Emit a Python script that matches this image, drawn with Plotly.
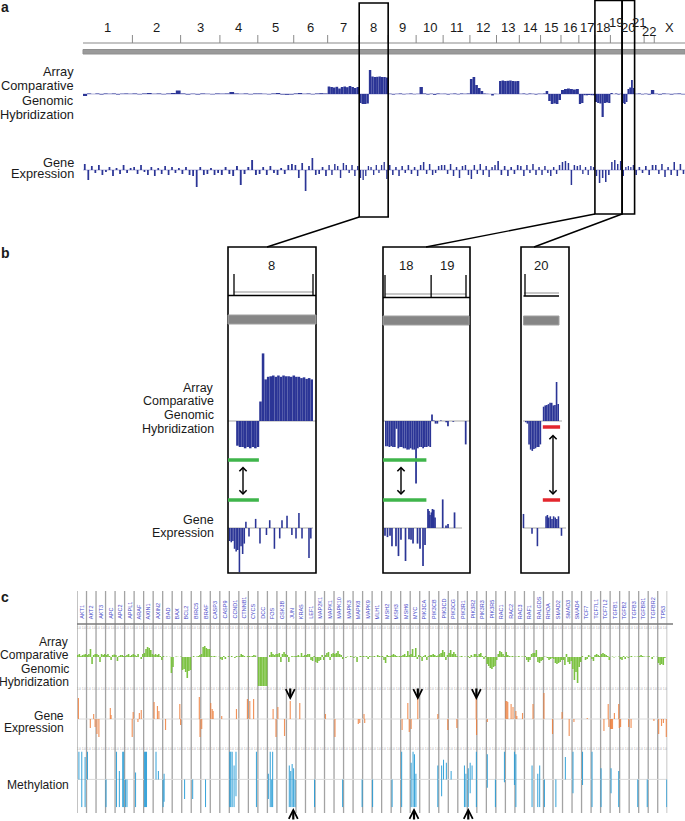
import plotly.graph_objects as go

W, H = 685, 821

# ---------------- DATA ----------------
chrom_names = ["1", "2", "3", "4", "5", "6", "7", "8", "9", "10", "11", "12",
               "13", "14", "15", "16", "17", "18", "19", "20", "21", "22", "X"]
chrom_len = [249, 243, 198, 191, 181, 171, 159, 146, 141, 136, 135, 134,
             115, 107, 103, 90, 81, 78, 59, 63, 48, 51, 155]

# panel a: array CGH (log ratio) per chromosome, equal bins
acgh_a = [
    [-0.2, 0.05, 0.0, 0.05, -0.05, 0.05, 0.02, 0.05, -0.05, 0.03, 0.05, 0.02],
    [0.05, -0.03, 0.05, 0.1, 0.02, 0.05, -0.03, 0.05, 0.1, 0.35],
    [0.05, -0.05, 0.03, -0.05, 0.05, 0.02, -0.03, 0.05],
    [0.03, 0.05, 0.2, 0.05, 0.02, 0.05, -0.03, 0.05],
    [0.05, 0.02, -0.03, 0.05, 0.1, -0.05, -0.08, -0.05],
    [0.05, 0.1, 0.02, 0.05, -0.03, 0.05, 0.08, 0.05],
    [0.75, 0.7, 0.65, 0.72, 0.55, 0.7, 0.75, 0.68, 0.8, 0.7, 0.6, 0.7],
    [-0.9, -1.0, -1.0, -0.95, 2.4, 1.75, 1.7, 1.72, 1.75, 1.7, 1.7, 1.65],
    [0.03, -0.05, 0.02, 0.05, -0.03, 0.02, 0.05, -0.02],
    [0.02, 0.7, 0.05, -0.05, 0.03, -0.08, 0.05, 0.02],
    [0.03, -0.05, 0.02, 0.05, -0.03, 0.05, 0.02, 0.05],
    [1.5, 1.7, 0.9, 0.6, 0.3, 0.05, 0.02, 0.0, -0.15, 0.02],
    [0.0, 1.3, 1.35, 1.3, 1.32, 1.35, 1.3, 1.28, 1.3],
    [0.02, 0.05, -0.03, 0.05, 0.02, -0.05, 0.03],
    [0.02, 0.05, 0.3, -0.7, -1.0, -0.95, -1.0, -0.6],
    [0.4, 0.5, 0.55, 0.5, 0.45, 0.5],
    [-1.0, -0.9, -0.12, -0.13, -0.1, -0.12, -0.13],
    [-0.8, -0.9, -0.95, -2.3, -0.9, -0.85, -0.9],
    [0.1, 0.0, 0.05, -0.05, 0.02],
    [-0.9, -1.0, -0.8, 0.5, 0.65, 1.4, 0.6],
    [0.02, 0.05, -0.03],
    [0.03, -0.05, 0.4],
    [0.03, -0.05, 0.05, 0.02, -0.05, 0.03, 0.05, -0.03],
]

# panel a: gene expression per chromosome, equal spacing
expr_a = [
    [0.6, -1.0, 0.4, -0.3, 0.5, -0.5, -0.2, 0.3, -0.6, 0.2, -0.4, 0.5, -0.3, 0.2],
    [0.3, -0.4, 0.5, -0.2, -0.5, 0.3, -0.6, 0.2, -0.4, 0.4, -0.5, 0.3, -0.3, 0.2],
    [-0.4, 0.3, -0.5, -0.6, -1.7, 0.3, -0.5, -0.4, 0.2, -0.5, -0.3],
    [-0.5, 0.3, -0.4, -0.6, 0.4, -1.5, -0.4, 0.3, 1.0, -0.5],
    [-0.4, 0.3, -0.5, 0.4, -0.3, -0.5, 0.2, -0.4, 0.5, 0.6],
    [0.5, -0.8, 0.7, -2.1, 0.4, 1.2, -0.5, -0.4, 0.3, -0.6],
    [0.5, -0.5, 0.6, 0.4, -0.8, 0.7, 0.5, -0.3, 0.5, -0.6, 0.4],
    [-0.8, -1.0, -0.6, 0.4, 0.3, -0.5, 0.5, -0.3, 0.5, 0.8, -0.9],
    [0.5, -0.5, 0.3, -0.6, 0.4, -0.3, 0.5, -0.4, 0.3],
    [-0.6, 0.5, 0.8, -0.4, 0.6, -0.5, -0.3, 0.4, 0.5],
    [0.5, -0.4, 0.6, -0.6, 0.3, -0.8, 0.4, 0.5, -0.5],
    [-0.9, 0.5, -0.4, 0.6, -0.5, 0.4, -0.7, 0.3, 0.5],
    [0.9, -0.5, 0.4, -0.6, 0.3, -0.4, 0.5],
    [0.4, -0.6, 0.5, -0.3, 0.6, -0.5, 0.3],
    [-0.5, 0.4, -0.3, -0.6, 0.3, -0.4, 0.5],
    [0.8, 0.9, 0.7, -1.5, 0.5, 0.4],
    [0.5, -0.4, 0.3, -0.5, 0.4, 0.3],
    [-0.6, -1.3, -0.8, -1.2, -0.5],
    [0.8, 1.0, 0.6, 0.9],
    [-0.6, 0.3, 0.4, 0.3, 0.5],
    [-0.5, 0.3, -0.3],
    [0.4, -0.5, 0.5],
    [0.5, -0.4, 0.6, -0.7, 0.3, -0.5, 0.8, -0.6, 0.6, -0.4],
]

# panel b: zoomed chromosome 8 (Mb)
b8_acgh_span = [4, 146]
b8_acgh = [-0.95, -1.0, -1.0, -1.05, -1.0, -1.05, -1.0, -1.05, -1.0,
           0.75, 2.6, 1.6, 1.7, 1.72, 1.75, 1.7, 1.75, 1.7, 1.75, 1.72,
           1.72, 1.7, 1.75, 1.7, 1.7, 1.65, 1.68, 1.62, 1.65, 1.6]
b8_expr_pos = [-8, -5, -2, 1, 4, 7, 10, 13, 16, 19, 22, 27.7, 40, 48, 60, 66,
               74.7, 84.5, 88.7, 98, 107, 114.6, 120, 125.7, 138.6, 142]
b8_expr_val = [-0.5, -0.55, -0.5, -0.8, -0.9, -0.85, -1.7, -0.7, -1.0, -0.6,
               0.24, -0.33, 0.35, -0.6, -0.27, 0.3, -0.8, -0.4, 0.3, 0.47,
               -0.27, -0.4, 0.58, -0.4, -1.15, -0.4]
b8_loss_end = 46

# panel b: zoomed chromosomes 18-19 (Mb, 19 starts at 78)
b1819_bin = 3
b1819_acgh = [-0.97, -0.97, -1.0, -0.97, -1.0, -1.0, -0.3, -1.05, -1.0, -1.0,
              -1.05, -1.05, -1.1, -1.1, -1.05, -1.1, -1.1, -2.4, -1.05, -1.0,
              -1.0, -1.05, -1.0, -1.0, -0.97, -1.0,
              0.25, 0.02, -0.1, -0.1, 0.0, 0.02, 0.0, 0.0, -0.05, -0.2,
              0.0, 0.0, -0.03, 0.0, 0.0, 0.0, 0.0, 0.0, 0.0, -0.9]
b1819_expr_pos = [0, 4.2, 8.5, 11.8, 18.6, 22.8, 27, 34.7, 40.6, 44, 47.4, 55,
                  59.2, 64.3, 67.7, 72.7, 74.4, 76, 78.5, 80.3, 82.5, 84.6,
                  97.6, 103.2, 106.6, 117.6]
b1819_expr_val = [-0.3, -0.35, -0.3, -0.7, -0.7, -1.08, -0.45, -1.27, -0.43,
                  -0.45, -0.6, -0.6, -0.8, -1.46, -0.65, 0.73, 0.65, 0.5, 0.6,
                  0.73, 0.7, 0.4, 1.1, 0.1, 0.15, 0.6]
b1819_bounds = [0, 78, 137]
b18_loss_end = 70

# panel b: zoomed chromosome 20 (Mb)
b20_bin = 3
b20_acgh = [-0.05, -0.1, -0.9, -1.1, -1.15, -1.08, -1.05, -1.0, -1.0, -0.9,
            0.0, 0.55, 0.6, 0.62, 0.65, 0.7, 0.7, 0.6, 0.62, 1.5, 0.65]
b20_expr_pos = [-2.8, 13, 23, 39, 41.5, 44, 47, 50, 53, 56, 59, 62, 67.6]
b20_expr_val = [0.54, -0.22, -0.7, 0.45, 0.5, 0.4, 0.45, 0.35, 0.45, 0.4,
                0.35, 0.45, -0.3]
b20_gain_span = [33, 65]

# panel c: genes
genes = ["AKT1", "AKT2", "AKT3", "APC", "APC2", "APPL1", "ARAF", "AXIN1", "AXIN2",
         "BAD", "BAX", "BCL2", "BIRC5", "BRAF", "CASP3", "CASP9", "CCND1",
         "CTNNB1", "CYCS", "DCC", "FOS", "GSK3B", "JUN", "KRAS", "LEF1",
         "MAP2K1", "MAPK1", "MAPK10", "MAPK3", "MAPK8", "MAPK9", "MLH1", "MSH2",
         "MSH3", "MSH6", "MYC", "PIK3CA", "PIK3CB", "PIK3CD", "PIK3CG", "PIK3R1",
         "PIK3R2", "PIK3R3", "PIK3R5", "RAC1", "RAC2", "RAC3", "RAF1", "RALGDS",
         "RHOA", "SMAD2", "SMAD3", "SMAD4", "TCF7", "TCF7L1", "TCF7L2", "TGFB1",
         "TGFB2", "TGFB3", "TGFBR1", "TGFBR2", "TP53"]

acgh_c = [
    [0.2, 0.3, 0.1, 0.2, 0.25, 0.3], [0.2, 0.3, 0.8, -0.7, 0.2, 0.3],
    [0.3, 0.2, -0.5, 0.3, 0.2, 0.3], [0.2, 0.3, 0.1, -0.3, 0.2, 0.25],
    [0.2, -0.4, 0.1, 0.2, 0.2, 0.1], [0.1, 0.2, 0.3, 0.1, 0.2, 0.3],
    [0.2, 0.1, 0.3, 0.0, -0.2, 0.3], [0.4, 0.8, 1.0, 0.9, 0.7, 0.3],
    [0.2, 0.3, 0.2, 0.3, 0.1, -0.3], [0.1, 0.0, 0.05, 0.0, 0.02, -1.6],
    [-1.0, 0.0, 0.05, 0.02, 0.0, 0.05], [-1.3, -1.2, -1.5, -2.1, -1.4, -1.3],
    [0.0, 0.1, 0.0, 0.05, 0.1, 0.2], [0.3, 1.0, 1.1, 0.9, 0.8, 0.8],
    [0.1, 0.05, 0.1, 0.05, 0.0, 0.02], [-0.2, -0.3, 0.1, -0.2, 0.0, 0.1],
    [0.0, 0.1, 0.0, -0.1, 0.1, 0.05], [0.1, 0.3, 0.2, 0.1, 0.0, 0.1],
    [0.1, 0.05, 0.1, 0.2, 0.15, 0.0], [-2.9, -2.9, -2.9, -2.9, -2.9, -2.9],
    [0.0, 0.2, 0.5, 0.3, 0.2, 0.3], [0.3, 0.4, -0.5, 0.3, 0.5, 0.3],
    [0.2, -0.5, 0.0, 0.1, 0.05, 0.1], [0.1, 0.2, 0.05, 0.4, 0.1, 0.2],
    [0.2, 0.3, 0.3, -0.3, -0.4, 0.1], [-0.5, -0.6, -0.4, -0.3, 0.2, -0.3],
    [0.2, 0.4, 0.5, -0.3, 0.3, 0.4], [0.3, 0.4, 0.6, 0.3, 0.2, -0.2],
    [0.0, -0.1, 0.05, 0.0, 0.1, 0.05], [-0.1, 0.05, -0.5, 0.0, 0.1, 0.05],
    [0.1, 0.05, 0.1, -0.2, 0.1, 0.05], [0.05, 0.1, 0.0, 0.2, 0.1, 0.05],
    [0.1, -0.3, -0.6, 0.2, 0.1, 0.1], [0.2, 0.3, 0.2, 0.1, 0.05, 0.1],
    [0.1, 0.2, 0.3, 0.1, 0.6, 0.2], [0.3, 0.8, 0.1, 0.9, -0.2, 0.2],
    [0.1, -0.4, 0.1, 0.2, -0.3, 0.1], [0.2, 0.2, 0.3, 0.2, 0.1, 0.15],
    [0.3, 0.4, 0.7, 0.5, -0.3, 0.2], [0.4, 0.7, 0.3, 0.5, 0.3, 0.1],
    [0.0, 0.05, 0.1, 0.0, 0.05, 0.0], [0.1, -0.1, 0.2, 0.05, 0.3, 0.3],
    [0.1, 0.3, 0.4, 0.1, -0.2, 0.1], [-0.7, -0.9, -1.1, -1.2, -1.0, -0.9],
    [-0.3, 0.3, 0.6, 0.5, 0.3, 0.1], [0.5, 0.2, 0.1, 0.05, 0.1, 0.02],
    [0.05, 0.02, 0.1, 0.0, 0.05, 0.02], [0.1, -0.3, -0.5, -0.3, 0.3, 0.4],
    [0.4, 0.7, -0.5, -0.6, -0.4, -0.3], [0.05, 0.02, -0.1, -0.3, -0.2, -0.1],
    [-0.2, -0.6, -0.7, -0.6, -0.5, -0.3], [-0.3, -0.8, 0.3, -0.5, -0.7, -0.4],
    [-1.2, -2.3, -1.5, -2.6, -1.0, -0.5], [0.1, 0.0, -0.3, -0.2, 0.2, 0.05],
    [-0.2, -0.4, 0.2, 0.3, 0.2, 0.1], [0.3, 0.4, 0.3, 0.2, 0.1, -0.3],
    [0.0, 0.05, -0.05, 0.02, 0.0, 0.05], [-0.2, -0.3, 0.1, -0.2, 0.05, -0.1],
    [0.05, 0.1, 0.0, 0.05, 0.02, 0.05], [0.1, 0.2, 0.1, 0.05, 0.02, 0.05],
    [0.1, 0.0, -0.2, 0.05, 0.0, 0.02], [-0.6, -0.8, -0.7, -0.8, -0.1, 0.0],
]

expr_c_gene = [0, 1, 1, 1, 2, 2, 3, 3, 5, 5, 6, 6, 6, 8, 8, 8, 9, 10, 10, 12, 12,
               13, 14, 14, 14, 15, 16, 17, 18, 18, 20, 20, 21, 21, 22, 23, 26, 27,
               29, 29, 30, 30, 34, 34, 34, 35, 35, 37, 38, 39, 41, 41, 43, 45, 45,
               45, 45, 45, 46, 46, 46, 47, 49, 49, 50, 51, 52, 53, 55, 55, 55, 56,
               56, 56, 56, 56, 56, 57, 57, 58, 60, 61, 61, 61, 61]
expr_c_pos = [0.15, 0.4, 0.75, 0.9, 0.1, 0.3, 0.5, 0.58, 0.8, 0.9, 0.4, 0.55, 0.75,
              0.1, 0.45, 0.6, 0.3, 0.8, 0.88, 0.85, 0.92, 0.1, 0.05, 0.2, 0.3,
              0.2, 0.75, 0.9, 0.15, 0.55, 0.6, 0.9, 0.1, 0.8, 0.4, 0.4, 0.1, 0.1,
              0.55, 0.7, 0.15, 0.22, 0.15, 0.75, 0.9, 0.1, 0.8, 0.9, 0.95, 0.9,
              0.93, 0.97, 0.1, 0.05, 0.15, 0.25, 0.6, 0.8, 0.1, 0.2, 0.8, 0.9,
              0.05, 0.95, 0.95, 0.7, 0.2, 0.6, 0.35, 0.8, 0.87, 0.05, 0.15, 0.25,
              0.45, 0.9, 0.96, 0.1, 0.95, 0.2, 0.6, 0.1, 0.4, 0.6, 0.9]
expr_c_val = [2.1, -0.9, 0.5, -0.8, -1.5, -1.8, 1.1, 0.4, -1.8, 0.7, -0.3, 0.6, 0.9,
              1.7, 1.3, 0.8, -1.1, 1.5, -0.6, 2.2, -1.8, -1.0, 1.6, 1.0, 0.8,
              0.3, 1.0, 2.0, 1.8, 2.0, 1.0, -1.8, 1.2, -1.7, 1.8, 1.6, 0.5, -1.8,
              -0.5, -0.4, 0.5, -0.4, -1.1, 1.6, -1.3, -1.0, 2.4, 0.5, -1.1, -0.9,
              2.4, -1.6, -0.3, 1.8, 1.8, 1.7, 1.5, 1.2, 0.8, 0.3, 0.6, 1.5,
              2.6, -1.5, 0.7, -1.7, -0.3, 0.1, -1.2, 1.5, -0.8, -1.0, -1.0, -1.0,
              0.6, 1.5, -0.9, -0.8, -0.8, -0.9, -0.2, -1.5, -0.7, -0.4, -1.8]

meth_c_gene = [0, 0, 0, 1, 3, 4, 4, 4, 4, 5, 5, 6, 7, 7, 7, 8, 8, 9, 9, 11, 12, 13,
               16, 16, 16, 16, 16, 18, 20, 20, 20, 20, 22, 22, 22, 22, 22, 24, 27,
               29, 31, 33, 34, 35, 35, 35, 35, 37, 38, 38, 38, 39, 40, 40, 41, 41,
               41, 41, 43, 43, 44, 45, 46, 47, 48, 48, 49, 50, 51, 52, 53, 54, 55,
               56, 56, 58, 59, 61]
meth_c_pos = [0.2, 0.5, 0.85, 0.1, 0.05, 0.15, 0.45, 0.8, 0.9, 0.1, 0.25, 0.15,
              0.1, 0.2, 0.3, 0.3, 0.55, 0.05, 0.15, 0.3, 0.15, 0.5,
              0.05, 0.15, 0.3, 0.5, 0.7, 0.85, 0.1, 0.3, 0.45, 0.55, 0.3, 0.45,
              0.6, 0.75, 0.9, 0.95, 0.9, 0.95, 0.05, 0.1, 0.1, 0.1, 0.3, 0.45,
              0.6, 0.9, 0.3, 0.5, 0.8, 0.3, 0.7, 0.85, 0.1, 0.3, 0.5, 0.95, 0.1,
              0.95, 0.9, 0.95, 0.1, 0.8, 0.4, 0.6, 0.1, 0.3, 0.3, 0.1, 0.1, 0.1,
              0.05, 0.1, 0.9, 0.9, 0.9, 0.95]
meth_c_lo = [0, 1, 1, 0, 1, 1, 1, 1, 1, 1, 1, 1, 1, 1, 1, 0, 0, 1, 0.8, 0.7, 0.7, 1,
             1, 1, 1, 1, 0.6, 1, 0.7, 1, 1, 1, 1, 1, 1, 1, 1, 1, 1, 1, 1, 1, 1,
             1, 1, 1, 1, 1, 0.6, 0, 0, 0, 1, 1, 1, 0.5, 0, 1, 0.3, 1, 0.1, 0.2,
             1, 1, 1, 1, 1, 1, 0, 0.5, 0.2, 1, 1, 0.5, 1, 1, 1, 1]
meth_c_hi = [1, 1, 0.8, 1, 0, 1, 0.3, 1, 1, 0, 0, 0.25, 1, 1, 1, 1, 0.3, 0, 0.2,
             0, 0, 0, 1, 1, 1, 0.5, 1, 1, 0.2, 1, 0, 1, 0.5, 0.3, 0.55, 0.4, 0,
             0, 0, 0, 0, 0, 1, 0.6, 1, 0.9, 0.2, 0.5, 0.5, 0.7, 0.6, 0.3, 0.5,
             0.2, 0.4, 0.6, 0.5, 1, 0.9, 0, 1, 1, 0.9, 0.5, 0.2, 0.5, 0, 0, 0.8,
             1, 1, 1, 0.4, 0.4, 0.3, 0, 0, 0]

arrow_down_genes = [22.4, 35.8, 41.95]
arrow_up_genes = [22.72, 35.4, 41.1]

# ---------------- HELPERS ----------------
def xp(x):
    return x / W


def yp(y):
    return 1 - y / H


FONT = "Liberation Sans, Arial, Helvetica, sans-serif"
NAVY = "#2b3596"
GREEN = "#7cc242"
ORANGE = "rgba(238,120,50,0.8)"
BLUE = "rgba(28,150,212,0.85)"
LBL = 12.5

layout = dict(width=W, height=H, autosize=False,
              margin=dict(l=0, r=0, t=0, b=0, pad=0),
              paper_bgcolor="white", plot_bgcolor="rgba(0,0,0,0)",
              showlegend=False, barmode="overlay")
shapes = []
annotations = []
traces = []


def add_axes(n, xdom, xrange, ydom, yrange):
    xs = "xaxis" if n == 1 else f"xaxis{n}"
    ys = "yaxis" if n == 1 else f"yaxis{n}"
    layout[xs] = dict(domain=[xp(xdom[0]), xp(xdom[1])], range=xrange, visible=False,
                      fixedrange=True, anchor="y" if n == 1 else f"y{n}")
    layout[ys] = dict(domain=[yp(ydom[1]), yp(ydom[0])], range=yrange, visible=False,
                      fixedrange=True, anchor="x" if n == 1 else f"x{n}")
    return ("x" if n == 1 else f"x{n}"), ("y" if n == 1 else f"y{n}")


def bars(xa, ya, xs, ys, ws, color, base=None):
    traces.append(go.Bar(x=xs, y=ys, width=ws, base=base, xaxis=xa, yaxis=ya,
                         marker=dict(color=color, line=dict(width=0)),
                         hoverinfo="skip"))


def line(x0, y0, x1, y1, color="black", width=1.0, xref="paper", yref="paper", layer="above"):
    shapes.append(dict(type="line", x0=x0, y0=y0, x1=x1, y1=y1, xref=xref, yref=yref,
                       line=dict(color=color, width=width), layer=layer))


def rect(x0, y0, x1, y1, color="black", width=1.5, fill="rgba(0,0,0,0)", xref="paper",
         yref="paper", layer="above"):
    shapes.append(dict(type="rect", x0=x0, y0=y0, x1=x1, y1=y1, xref=xref, yref=yref,
                       line=dict(color=color, width=width), fillcolor=fill, layer=layer))


def text(x, y, s, size=LBL, xanchor="center", color="#1a1a1a", bold=False,
         xref="paper", yref="paper", angle=0, yanchor="middle"):
    annotations.append(dict(x=x, y=y, xref=xref, yref=yref, text=f"<b>{s}</b>" if bold else s,
                            showarrow=False, xanchor=xanchor, yanchor=yanchor,
                            textangle=angle,
                            font=dict(family=FONT, size=size, color=color)))


def arrow(x, y, ax, ay, both=False, width=1.4, xref="paper", yref="paper", size=1.0, head=4):
    annotations.append(dict(x=x, y=y, xref=xref, yref=yref, ax=ax, ay=ay, text="",
                            showarrow=True, arrowhead=head, startarrowhead=head,
                            arrowside="end+start" if both else "end",
                            arrowwidth=width, arrowsize=size, arrowcolor="black",
                            standoff=0, startstandoff=0))


# ---------------- PANEL A ----------------
cum = [0]
for L in chrom_len:
    cum.append(cum[-1] + L)
total = cum[-1]
A_X0, A_X1 = 83, 685
xa1, ya1 = add_axes(1, (A_X0, A_X1), [0, total], (64, 124), [-3, 3])
xa2, ya2 = add_axes(2, (A_X0, A_X1), [0, total], (140, 200), [-3, 3])

def gx(g):  # genome coordinate -> pixel x (for connectors only)
    return A_X0 + g / total * (A_X1 - A_X0)

# baselines
line(0, 0, total, 0, color="#b4b4dc", width=1, xref=xa1, yref=ya1, layer="below")
line(0, 0, total, 0, color="#b4b4dc", width=1, xref=xa2, yref=ya2, layer="below")

xs, ys, ws = [], [], []
for k, vals in enumerate(acgh_a):
    w = chrom_len[k] / len(vals)
    for j, v in enumerate(vals):
        xs.append(cum[k] + (j + 0.5) * w); ys.append(v); ws.append(w)
bars(xa1, ya1, xs, ys, ws, NAVY)

xs, ys, ws = [], [], []
for k, vals in enumerate(expr_a):
    w = chrom_len[k] / len(vals)
    for j, v in enumerate(vals):
        xs.append(cum[k] + (j + 0.5) * w); ys.append(v); ws.append(w * 0.5)
bars(xa2, ya2, xs, ys, ws, NAVY)

# chromosome axis
line(xp(A_X0), yp(43), xp(A_X1), yp(43), color="#8a8a8a", width=1.2)
for k in range(1, len(chrom_len)):
    line(cum[k], yp(35), cum[k], yp(43), color="#8a8a8a", width=1, xref=xa1)
rect(xp(A_X0), yp(54), xp(A_X1), yp(49.5), color="#8f8f8f", width=1, fill="#9a9a9a")
label_dy = {"19": -5, "21": -5, "22": 5}
for k, nm in enumerate(chrom_names):
    text(cum[k] + chrom_len[k] / 2, yp(27 + label_dy.get(nm, 0)), nm, size=13,
         xref=xa1)

# zoom boxes in panel a
rect(cum[7], yp(217), cum[8], yp(3), xref=xa1, width=1.6)
rect(cum[17], yp(214), cum[19], yp(0.5), xref=xa1, width=1.6)
rect(cum[19], yp(214), cum[20], yp(0.5), xref=xa1, width=1.6)

# connectors
line(xp(gx(cum[7])), yp(217), xp(267), yp(247), width=1.4)
line(xp(gx(cum[17])), yp(214), xp(426), yp(247), width=1.4)
line(xp(gx(cum[19])), yp(214), xp(534), yp(247), width=1.4)

# labels panel a
for s, y in zip(["Array", "Comparative", "Genomic", "Hybridization"], [72, 86, 100, 114]):
    text(xp(75.5), yp(y), s, xanchor="right", size=12.8)
for s, y in zip(["Gene", "Expression"], [162, 174]):
    text(xp(75.5), yp(y), s, xanchor="right", size=12.8)
text(xp(5), yp(7), "a", size=14, bold=True)

# ---------------- PANEL B ----------------
text(xp(5), yp(253), "b", size=14, bold=True)
for s, y in zip(["Array", "Comparative", "Genomic", "Hybridization"], [388, 401.5, 415, 428.5]):
    text(xp(216), yp(y), s, xanchor="right")
for s, y in zip(["Gene", "Expression"], [519.5, 532.5]):
    text(xp(216), yp(y), s, xanchor="right")

BTOP, BBOT = 247, 573
ACGH_DOM = (340, 490)
ACGH_RNG = [-(490 - 421) / 26, (421 - 340) / 26]
EXPR_DOM = (490, 573)
EXPR_RNG = [-(573 - 528) / 26, (528 - 490) / 26]

boxes = [
    dict(n=3, px=(228, 316), rng=[-6 / 0.5411, 146 + 3 / 0.5411]),
    dict(n=5, px=(383, 470), rng=[-2 / 0.5912, 137 + 4 / 0.5912]),
    dict(n=7, px=(521, 569), rng=[-4 / 0.5397, 63 + 10 / 0.5397]),
]
ax_b = []
for b in boxes:
    xa, ya = add_axes(b["n"], b["px"], b["rng"], ACGH_DOM, ACGH_RNG)
    xe, ye = add_axes(b["n"] + 1, b["px"], b["rng"], EXPR_DOM, EXPR_RNG)
    ax_b.append((xa, ya, xe, ye))
    rect(xp(b["px"][0]), yp(BBOT), xp(b["px"][1]), yp(BTOP), width=1.6)

# box 8
xa, ya, xe, ye = ax_b[0]
line(xp(228), 0, xp(316), 0, color="#c4c4c4", width=1.6, yref=ya, layer="below")
line(xp(228), 0, xp(313), 0, color="#c4c4c4", width=1.6, yref=ye, layer="below")
w = (b8_acgh_span[1] - b8_acgh_span[0]) / len(b8_acgh)
bars(xa, ya, [b8_acgh_span[0] + (j + 0.5) * w for j in range(len(b8_acgh))], b8_acgh,
     [w] * len(b8_acgh), NAVY)
bars(xe, ye, b8_expr_pos, b8_expr_val, [2.9] * len(b8_expr_pos), NAVY)
line(0, yp(292), 146, yp(292), color="#c8c8c8", width=2, xref=xa)
line(xp(228), yp(295.5), xp(316), yp(295.5), width=1.6)
for t in [0, 146]:
    line(t, yp(274), t, yp(295), width=1.3, xref=xa)
rect(xp(228), yp(324), xp(316), yp(315), color="#a0a0a0", width=1, fill="#868686")
text(xp(271), yp(265), "8", size=13)
line(boxes[0]["rng"][0], yp(460), b8_loss_end, yp(460), color="#3fb54b", width=3.5, xref=xa)
line(boxes[0]["rng"][0], yp(500), b8_loss_end, yp(500), color="#3fb54b", width=3.5, xref=xa)
arrow(xp(243), yp(495), 0, -30, both=True)

# box 18-19
xa, ya, xe, ye = ax_b[1]
line(xp(383), 0, xp(470), 0, color="#c4c4c4", width=1.6, yref=ya, layer="below")
line(xp(383), 0, xp(462), 0, color="#c4c4c4", width=1.6, yref=ye, layer="below")
n = len(b1819_acgh)
bars(xa, ya, [(j + 0.5) * b1819_bin for j in range(n)], b1819_acgh, [b1819_bin] * n, NAVY)
bars(xe, ye, b1819_expr_pos, b1819_expr_val, [2.9] * len(b1819_expr_pos), NAVY)
line(0, yp(294), 137, yp(294), color="#c8c8c8", width=2, xref=xa)
line(xp(383), yp(297.5), xp(470), yp(297.5), width=1.6)
for t in b1819_bounds:
    line(t, yp(275), t, yp(297), width=1.3, xref=xa)
rect(xp(383), yp(325), xp(469), yp(316), color="#a0a0a0", width=1, fill="#868686")
text(xp(406), yp(265), "18", size=13)
text(xp(447), yp(265), "19", size=13)
line(boxes[1]["rng"][0], yp(460), b18_loss_end, yp(460), color="#3fb54b", width=3.5, xref=xa)
line(boxes[1]["rng"][0], yp(500), b18_loss_end, yp(500), color="#3fb54b", width=3.5, xref=xa)
arrow(xp(401), yp(495), 0, -30, both=True)

# box 20
xa, ya, xe, ye = ax_b[2]
line(xp(523), 0, xp(562), 0, color="#c4c4c4", width=1.6, yref=ya, layer="below")
line(xp(523), 0, xp(566), 0, color="#c4c4c4", width=1.6, yref=ye, layer="below")
n = len(b20_acgh)
bars(xa, ya, [(j + 0.5) * b20_bin for j in range(n)], b20_acgh, [b20_bin] * n, NAVY)
bars(xe, ye, b20_expr_pos, b20_expr_val, [2.9] * len(b20_expr_pos), NAVY)
line(xp(524), yp(293), xp(559), yp(293), color="#c8c8c8", width=2)
line(xp(523.5), yp(296), xp(559), yp(296), width=1.6)
line(0, yp(274), 0, yp(296), width=1.3, xref=xa)
rect(xp(523.5), yp(325), xp(559), yp(316), color="#a0a0a0", width=1, fill="#868686")
text(xp(541), yp(265), "20", size=13)
line(b20_gain_span[0], yp(427), b20_gain_span[1], yp(427), color="#e3262d", width=3.5, xref=xa)
line(b20_gain_span[0], yp(500), b20_gain_span[1], yp(500), color="#e3262d", width=3.5, xref=xa)
arrow(xp(553), yp(495), 0, -62, both=True)

# ---------------- PANEL C ----------------
text(xp(5), yp(597), "c", size=14, bold=True)
COLW = 9.52
C_X0 = 77
ng = len(genes)
C_X1 = C_X0 + ng * COLW
xc1, yc1 = add_axes(9, (C_X0, C_X1), [0, ng], (627, 687), [-3, 3])
xc2, yc2 = add_axes(10, (C_X0, C_X1), [0, ng], (689, 749), [-3, 3])
xc3, yc3 = add_axes(11, (C_X0, C_X1), [0, ng], (751.5, 807.3), [-1, 1])

CL = 12.1
for s, y in zip(["Array", "Comparative", "Genomic", "Hybridization"], [641.5, 655, 668.5, 682]):
    text(xp(71), yp(y), s, xanchor="right", size=CL)
text(xp(65.5), yp(716), "Gene", xanchor="right", size=CL)
text(xp(66), yp(728), "Expression", xanchor="right", size=CL)
text(xp(71), yp(785), "Methylation", xanchor="right", size=CL)

# baselines
line(0, 0, ng, 0, color="#dadada", width=1, xref=xc2, yref=yc2, layer="below")
line(0, 0, ng, 0, color="#dadada", width=1, xref=xc3, yref=yc3, layer="below")

# column separators
for i in range(ng + 1):
    line(i, yp(813), i, yp(591), color="#a3a3a3", width=1.3, xref=xc1, layer="below")
line(xp(C_X0), yp(624), xp(673), yp(624), color="#7a7a7a", width=1.6)

# gene labels
for i, g in enumerate(genes):
    text(i + 0.5, yp(621), g, size=5.5, color="#4848c8", xref=xc1, angle=-90,
         yanchor="bottom")
    for yy in [628, 688.5, 749]:
        text(i + 0.5, yp(yy), "1.0  1.0", size=2.6, color="#9a9a9a", xref=xc1)

# aCGH
xs, ys = [], []
for i, vals in enumerate(acgh_c):
    for j, v in enumerate(vals):
        xs.append(i + (j + 0.5) / len(vals)); ys.append(v)
bars(xc1, yc1, xs, ys, [1 / 6] * len(xs), GREEN)

# expression
bars(xc2, yc2, [g + p for g, p in zip(expr_c_gene, expr_c_pos)], expr_c_val,
     [0.12] * len(expr_c_val), ORANGE)

# methylation
bars(xc3, yc3, [g + p for g, p in zip(meth_c_gene, meth_c_pos)],
     [h + l for h, l in zip(meth_c_hi, meth_c_lo)], [0.11] * len(meth_c_gene), BLUE,
     base=[-l for l in meth_c_lo])

# arrows
for gxp in arrow_down_genes:
    arrow(gxp, yp(700), 0, -13, width=2.2, xref=xc1, size=0.8, head=5)
for gxp in arrow_up_genes:
    arrow(gxp, yp(808), 0, 13, width=2.2, xref=xc1, size=0.8, head=5)

layout["shapes"] = shapes
layout["annotations"] = annotations
fig = go.Figure(data=traces, layout=layout)
fig.write_html(
    "out.html",
    config={"displayModeBar": False, "staticPlot": True},
    post_script=("document.body.style.margin='0';document.body.style.padding='0';"
                 "document.body.style.overflow='hidden';"
                 "document.documentElement.style.overflow='hidden';"),
)
